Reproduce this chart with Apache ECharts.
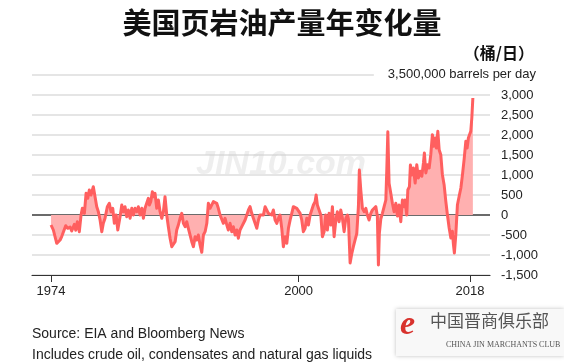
<!DOCTYPE html>
<html>
<head>
<meta charset="utf-8">
<script src="https://cdn.jsdelivr.net/npm/echarts@6/dist/echarts.min.js"></script>
<style>
html,body{margin:0;padding:0;background:#fff;}
#chart{width:564px;height:364px;}
</style>
</head>
<body>
<div id="chart"></div>
<script>
// Decimal years (monthly-ish samples)
const years = [
1974.00,1974.24,1974.60,1974.77,1974.95,1975.12,1975.29,1975.54,1975.75,1976.00,
1976.17,1976.45,1976.59,1976.76,1976.97,1977.15,1977.29,1977.50,1977.68,1977.86,
1978.02,1978.20,1978.44,1978.62,1978.80,1978.97,1979.15,1979.33,1979.49,1979.67,
1979.91,1980.12,1980.30,1980.48,1980.65,1980.83,1981.01,1981.25,1981.43,1981.59,
1981.77,1981.95,1982.12,1982.30,1982.48,1982.65,1982.82,1983.00,1983.17,1983.35,
1983.53,1983.70,1983.87,1984.05,1984.22,1984.33,1984.47,1984.64,1984.75,1984.92,
1985.10,1985.27,1985.45,1985.63,1985.80,1985.97,1986.15,1986.32,1986.50,1986.68,
1986.85,1987.03,1987.20,1987.37,1987.55,1987.73,1987.90,1988.08,1988.25,1988.42,
1988.60,1988.78,1988.95,1989.13,1989.30,1989.47,1989.65,1989.83,1990.00,1990.18,
1990.36,1990.52,1990.70,1990.88,1991.05,1991.23,1991.40,1991.57,1991.75,1991.93,
1992.10,1992.28,1992.46,1992.62,1992.80,1992.98,1993.15,1993.33,1993.51,1993.67,
1993.85,1994.03,1994.20,1994.38,1994.56,1994.73,1994.90,1995.08,1995.25,1995.43,
1995.61,1995.78,1995.95,1996.13,1996.30,1996.48,1996.66,1996.83,1997.00,1997.18,
1997.35,1997.53,1997.71,1997.88,1998.05,1998.23,1998.40,1998.58,1998.76,1998.93,
1999.11,1999.28,1999.45,1999.63,1999.81,1999.98,2000.16,2000.33,2000.50,2000.68,
2000.86,2001.03,2001.21,2001.38,2001.55,2001.73,2001.84,2001.97,2002.15,2002.33,
2002.50,2002.68,2002.85,2003.02,2003.20,2003.38,2003.55,2003.73,2003.91,2004.07,
2004.25,2004.43,2004.60,2004.78,2004.96,2005.13,2005.23,2005.41,2005.59,2005.75,
2005.93,2006.11,2006.28,2006.38,2006.53,2006.70,2006.88,2007.06,2007.22,2007.40,
2007.58,2007.75,2007.93,2008.11,2008.27,2008.38,2008.48,2008.63,2008.80,2008.98,
2009.16,2009.26,2009.37,2009.50,2009.68,2009.85,2010.03,2010.21,2010.38,2010.55,
2010.73,2010.90,2011.08,2011.18,2011.36,2011.47,2011.64,2011.74,2011.89,2012.06,
2012.24,2012.41,2012.58,2012.76,2012.94,2013.11,2013.21,2013.36,2013.53,2013.71,
2013.88,2014.05,2014.20,2014.34,2014.47,2014.62,2014.76,2014.93,2015.10,2015.28,
2015.46,2015.63,2015.81,2015.99,2016.15,2016.26,2016.36,2016.51,2016.68,2016.86,
2017.04,2017.21,2017.38,2017.56,2017.70,2017.83,2017.98,2018.08,2018.19,2018.30
];
// Year-over-year change in production (barrels per day)
const changes = [
-250,-375,-708,-683,-625,-540,-500,-267,-333,-300,
-400,-233,-380,-167,-417,0,167,42,542,417,
625,500,708,458,208,83,-125,-417,-208,-83,
208,292,83,167,-208,0,-375,-40,250,83,
208,-42,125,-83,167,0,167,83,208,0,
167,-83,167,125,417,250,333,583,458,542,
167,375,83,-83,83,458,0,-292,-583,-792,
-833,-667,-375,-250,-83,42,-208,-292,-167,-333,
-292,-667,-792,-542,-625,-500,-750,-933,-500,-417,
-208,292,167,208,333,375,292,167,0,-42,
-208,-83,-250,-375,-208,-417,-292,-500,-375,-583,
-375,-292,-250,-125,0,125,208,42,-83,-208,
-333,-125,0,42,0,208,167,42,83,0,
125,-125,-208,-83,0,-333,-792,-542,-708,-333,
-125,42,208,250,167,208,42,-125,-417,-333,
-83,-250,0,42,250,333,500,250,125,0,
-542,-417,0,-375,42,-250,208,-542,-125,83,
-167,125,-83,-417,-83,0,-100,-1200,-958,-792,
-625,-458,208,1125,625,167,83,167,0,-125,
42,125,167,208,-25,-1250,-458,-100,42,208,
375,1125,2083,792,542,292,83,292,-25,250,
-167,375,208,375,0,625,708,1250,1000,1175,
800,1258,925,1092,967,1300,1550,1050,1258,1175,
1508,2008,1717,1925,1675,2092,1633,1508,1008,758,
342,0,-325,-575,-408,-742,-950,-492,258,467,
675,1008,1383,1842,1675,1925,1883,2092,2425,2925
];
const xTickYears = [1974, 2000, 2018];
const yTicks = [-1500,-1000,-500,0,500,1000,1500,2000,2500,3000,3500];

const chart = echarts.init(document.getElementById('chart'), null, {renderer:'canvas'});
const fmt = v => (v < 0 ? '-' : '') + Math.abs(v).toLocaleString('en-US');
const gridColors = yTicks.map(v => v === 0 ? '#3a3a3a' : '#dcdcdc');

chart.setOption({
  animation:false,
  title:{
    text:'美国页岩油产量年变化量',
    left:'center', top:3,
    textStyle:{fontFamily:'"Noto Sans CJK SC"', fontWeight:'bold', fontSize:29, color:'#111'}
  },
  grid:{left:32, right:74, top:75, bottom:89},
  xAxis:{
    type:'value', min:1972.0, max:2020.1,
    axisLine:{onZero:false, lineStyle:{color:'#333', width:1.2}},
    axisTick:{show:true, customValues:xTickYears, length:7, lineStyle:{color:'#333'}},
    axisLabel:{customValues:xTickYears, margin:10, fontFamily:'"Liberation Sans", Arial, sans-serif', fontSize:13, color:'#222', formatter:v=>String(v)},
    splitLine:{show:false}
  },
  yAxis:{
    type:'value', position:'right', min:-1500, max:3500, interval:500,
    axisLine:{show:false}, axisTick:{show:false},
    axisLabel:{margin:11, align:'left', fontFamily:'"Liberation Sans", Arial, sans-serif', fontSize:13, color:'#222',
      formatter:v => v === 3500 ? '' : fmt(v)},
    splitLine:{show:true, lineStyle:{color:gridColors, width:1.5}}
  },
  series:[{
    type:'line',
    data: years.map((y,i)=>[y, changes[i]]),
    showSymbol:false,
    lineStyle:{color:'#ff5f5f', width:3, join:'round'},
    areaStyle:{color:'#ffb0b0', opacity:1, origin:0},
    z:3
  }],
  graphic:[
    {type:'text', right:30, top:45, z:100,
      style:{text:'（桶/日）', font:'bold 16px "Noto Sans CJK SC"', fill:'#111'}},
    {type:'text', right:28, top:67, z:100,
      style:{text:'3,500,000 barrels per day', font:'13px "Liberation Sans", Arial, sans-serif', fill:'#222',
        backgroundColor:'#fff', padding:[1,0,1,14]}},
    {type:'text', left:196, top:148, z:1,
      style:{text:'JIN10.com', font:'italic bold 34px "Liberation Sans", Arial, sans-serif', fill:'rgba(205,205,205,0.35)'}},
    {type:'text', left:32, top:327, z:100,
      style:{text:'Source: EIA and Bloomberg News', font:'14px "Liberation Sans", Arial, sans-serif', fill:'#222'}},
    {type:'text', left:32, top:348, z:100,
      style:{text:'Includes crude oil, condensates and natural gas liquids', font:'14px "Liberation Sans", Arial, sans-serif', fill:'#222'}},
    {type:'rect', left:396, top:309, z:90, shape:{width:168, height:47},
      style:{fill:'#f8f8f8', shadowBlur:4, shadowColor:'rgba(0,0,0,0.25)'}},
    {type:'text', left:400, top:308, z:101,
      style:{text:'e', font:'italic bold 34px "Liberation Serif", serif', fill:'#d8322d'}},
    {type:'text', left:430, top:312, z:101,
      style:{text:'中国晋商俱乐部', font:'17px "Noto Sans CJK SC"', fill:'#555'}},
    {type:'text', left:446, top:341, z:101,
      style:{text:'CHINA JIN MARCHANTS CLUB', font:'8px "Liberation Serif", serif', fill:'#555'}}
  ]
});
</script>
</body>
</html>
